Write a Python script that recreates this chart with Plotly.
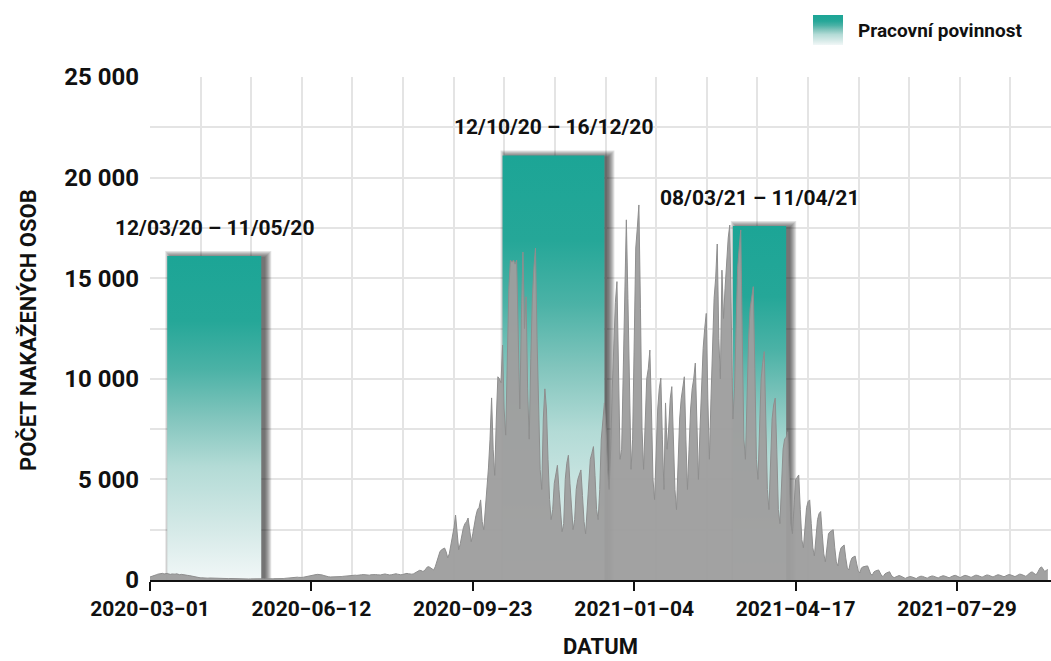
import pandas as pd
import plotly.graph_objects as go

# Daily new cases, one row per week starting Sunday 2020-03-01
cases = [
    150, 170, 200, 230, 260, 290, 310,
    320, 330, 300, 310, 330, 300, 280,
    300, 280, 290, 310, 270, 260, 280,
    260, 250, 240, 230, 220, 200, 180,
    160, 140, 130, 120, 110, 110, 100,
    100, 95, 90, 100, 95, 85, 80,
    80, 85, 90, 80, 75, 70, 70,
    65, 70, 75, 70, 65, 60, 60,
    60, 55, 60, 65, 60, 55, 50,
    50, 55, 60, 55, 50, 45, 50,
    50, 55, 60, 55, 50, 50, 55,
    55, 60, 65, 60, 55, 50, 55,
    60, 70, 80, 90, 100, 110, 120,
    130, 140, 150, 140, 130, 120, 130,
    140, 160, 180, 200, 220, 240, 250,
    260, 270, 280, 280, 270, 250, 220,
    190, 170, 160, 150, 150, 140, 140,
    140, 150, 160, 170, 180, 190, 200,
    210, 220, 230, 240, 250, 240, 230,
    230, 250, 260, 270, 260, 250, 240,
    240, 260, 270, 280, 270, 260, 250,
    250, 270, 290, 300, 280, 260, 250,
    260, 280, 300, 310, 290, 270, 260,
    270, 300, 320, 330, 310, 290, 290,
    300, 350, 400, 450, 480, 470, 430,
    450, 550, 650, 660, 600, 520, 500,
    650, 900, 1200, 1400, 1500, 1550, 1590,
    1400, 1100, 1300, 1700, 2200, 2600, 3230,
    2100, 1500, 1800, 2300, 2600, 2800, 2900,
    3080, 2400, 1900, 2300, 2800, 3200, 3500,
    3600, 3980, 2900, 2500, 3400, 4600, 5570,
    7000, 9050, 6500, 5200, 8000, 10100, 10000,
    9800, 11680, 8500, 7200, 11000, 14500, 15900,
    15800, 15900, 15700, 15900, 12000, 8500, 13000,
    16300, 12500, 14080, 9500, 7000, 11000, 14000,
    15500, 16500, 12000, 8000, 5500, 4500, 8000,
    9500, 8500, 6000, 4000, 3000, 3500, 4800,
    5200, 5700, 4500, 3200, 2400, 2800, 5000,
    5800, 6200, 4800, 3500, 2500, 3000, 4500,
    5000, 5300, 5470, 4200, 2900, 2300, 3500,
    5000, 6000, 6300, 6630, 5200, 3500, 3000,
    4500, 7000, 8000, 8800, 7500, 5500, 4500,
    6500, 9500, 12000, 13800, 14830, 10500, 6000,
    6500, 11000, 15500, 17900, 14000, 9000, 5500,
    7000, 12000, 16500, 17500, 18640, 13500, 7500,
    5500, 8000, 10000, 10500, 11430, 8500, 5000,
    4000, 6500, 8500, 9500, 10030, 7000, 4500,
    8800, 6500, 7500, 9000, 9610, 7500, 4500,
    3500, 6000, 8000, 9000, 9500, 10100, 7000,
    4500, 6500, 8500, 9500, 10000, 10780, 7500,
    5000, 7500, 10000, 11500, 12500, 13250, 9000,
    6000, 9000, 12000, 14000, 15000, 16700, 12000,
    10000, 15400, 13000, 14500, 16000, 17000, 17640,
    12000, 8000, 9500, 13000, 15500, 16500, 17400,
    12000, 7000, 6000, 9000, 12000, 13500, 14000,
    14580, 10500, 6000, 5000, 8000, 10000, 10800,
    11350, 8000, 4500, 3500, 6000, 8000, 8700,
    9040, 6500, 3500, 2800, 5000, 6500, 7000,
    7100, 7370, 5000, 2800, 2300, 4000, 5000,
    5100, 5220, 3500, 2000, 1600, 2800, 3600,
    3900, 3980, 2800, 1600, 1200, 2200, 3000,
    3300, 3400, 2300, 1300, 900, 1700, 2300,
    2400, 2450, 2500, 1600, 900, 700, 1300,
    1600, 1700, 1740, 1100, 600, 500, 900,
    1100, 1150, 1190, 800, 450, 350, 600,
    650, 680, 690, 700, 450, 280, 250,
    400, 450, 480, 500, 350, 200, 180,
    300, 350, 400, 410, 250, 150, 120,
    150, 200, 220, 200, 150, 100, 80,
    120, 150, 170, 160, 130, 90, 70,
    130, 170, 190, 180, 150, 110, 90,
    140, 180, 200, 190, 160, 120, 100,
    150, 190, 210, 200, 170, 130, 110,
    150, 200, 220, 230, 190, 140, 120,
    160, 210, 230, 220, 190, 150, 130,
    170, 220, 240, 230, 200, 150, 140,
    180, 230, 250, 240, 210, 160, 150,
    190, 240, 260, 250, 220, 170, 160,
    200, 250, 270, 260, 230, 180, 170,
    210, 260, 290, 280, 250, 190, 180,
    250, 320, 380, 400, 350, 280, 300,
    450, 600, 650, 550, 420, 480, 520,
]
first_day = "2020-03-01"

# Periods of compulsory work duty
duty_start = ["2020-03-12", "2020-10-12", "2021-03-08"]
duty_end = ["2020-05-11", "2020-12-16", "2021-04-11"]
duty_height = [16100, 21100, 17600]
legend_label = "Pracovní povinnost"

tick_dates = ["2020-03-01", "2020-06-12", "2020-09-23", "2021-01-04", "2021-04-17", "2021-07-29"]
tick_labels = [d.replace("-", "\u2212") for d in tick_dates]
x_range = ["2020-03-01", "2021-09-27"]
y_range = [0, 25000]
x_title = "DATUM"
y_title = "POČET NAKAŽENÝCH OSOB"

FONT = "Roboto, Liberation Sans, sans-serif"
INK = "#111111"
TEAL_SCALE = [
    [0.0, "#f1f7f7"], [0.15, "#d6eae8"], [0.35, "#b3dbd6"], [0.5, "#82c5bd"],
    [0.65, "#4bb2a6"], [0.8, "#25a798"], [1.0, "#1ca596"],
]

W, H = 1051, 661
PLOT_L, PLOT_R, PLOT_T, PLOT_B = 150, 1051, 77, 580
days_per_px = (pd.Timestamp(x_range[1]) - pd.Timestamp(x_range[0])).days / (PLOT_R - PLOT_L)
val_per_px = (y_range[1] - y_range[0]) / (PLOT_B - PLOT_T)

dates = pd.date_range(first_day, periods=len(cases), freq="D")

fig = go.Figure()

# soft drop shadows behind the duty bars
for s, e, h in zip(duty_start, duty_end, duty_height):
    s0, e0 = pd.Timestamp(s), pd.Timestamp(e)
    shift = pd.Timedelta(days=4 * days_per_px)
    for k in range(7):
        grow = pd.Timedelta(days=k * days_per_px)
        x0 = s0 + shift - grow
        x1 = e0 + shift + grow
        ytop = h + (k - 1) * val_per_px
        fig.add_trace(go.Scatter(
            x=[x0, x1, x1, x0, x0], y=[0, 0, ytop, ytop, 0],
            mode="lines", fill="toself", fillcolor="rgba(25,25,25,0.12)",
            line=dict(width=0), hoverinfo="skip", showlegend=False,
        ))

# duty bars with vertical teal gradient
for s, e, h in zip(duty_start, duty_end, duty_height):
    fig.add_trace(go.Scatter(
        x=[s, e, e, s, s], y=[0, 0, h, h, 0],
        mode="lines", fill="toself",
        fillgradient=dict(type="vertical", colorscale=TEAL_SCALE, start=0, stop=h),
        line=dict(width=0), hoverinfo="skip", showlegend=False,
    ))

# daily cases
fig.add_trace(go.Scatter(
    x=dates, y=cases, mode="lines", fill="tozeroy",
    fillcolor="rgba(158,158,158,0.96)", line=dict(color="#8e8e8e", width=1),
    showlegend=False,
))

# period labels above the bars
for s, e, h in zip(duty_start, duty_end, duty_height):
    s0, e0 = pd.Timestamp(s), pd.Timestamp(e)
    mid = s0 + (e0 - s0) / 2
    fig.add_annotation(
        x=mid, y=h, xref="x", yref="y", yanchor="bottom", yshift=14,
        text=f"{s0:%d/%m/%y} \u2013 {e0:%d/%m/%y}", showarrow=False,
        font=dict(family=FONT, size=21, color=INK, weight="bold"),
    )

# legend swatch on its own small axes
fig.add_trace(go.Scatter(
    x=[0, 1, 1, 0, 0], y=[0, 0, 1, 1, 0], xaxis="x2", yaxis="y2",
    mode="lines", fill="toself",
    fillgradient=dict(type="vertical", colorscale=TEAL_SCALE, start=0, stop=1),
    line=dict(width=0), hoverinfo="skip", showlegend=False,
))
fig.add_annotation(
    x=856 / W, y=1 - 30 / H, xref="paper", yref="paper", xanchor="left", yanchor="middle",
    text=legend_label, showarrow=False,
    font=dict(family=FONT, size=19, color=INK, weight="bold"),
)

# axis titles
fig.add_annotation(
    x=28 / W, y=1 - 330 / H, xref="paper", yref="paper", xanchor="center", yanchor="middle",
    text=y_title, textangle=-90, showarrow=False,
    font=dict(family=FONT, size=22, color=INK, weight="bold"),
)
fig.add_annotation(
    x=600 / W, y=1 - 646 / H, xref="paper", yref="paper", xanchor="center", yanchor="middle",
    text=x_title, showarrow=False, borderpad=0,
    font=dict(family=FONT, size=22, color=INK, weight="bold"),
)

fig.update_layout(
    width=W, height=H,
    margin=dict(l=0, r=0, t=0, b=0),
    paper_bgcolor="white", plot_bgcolor="white",
    separators=", ",
    font=dict(family=FONT, color=INK),
    xaxis=dict(
        domain=[PLOT_L / W, PLOT_R / W], type="date", range=x_range,
        tickmode="array", tickvals=tick_dates, ticktext=tick_labels, tickangle=0,
        tickfont=dict(family=FONT, size=21, color=INK, weight="bold"),
        ticks="outside", ticklen=9, tickwidth=1.5, tickcolor=INK,
        showline=True, linecolor=INK, linewidth=2,
        showgrid=False, zeroline=False,
        minor=dict(tick0="2020-03-01", dtick=32.3 * 86400000, showgrid=True,
                   gridcolor="#e4e4e4", gridwidth=1.5, ticks=""),
        automargin=False, anchor="y",
    ),
    yaxis=dict(
        domain=[1 - PLOT_B / H, 1 - PLOT_T / H], range=y_range,
        tickmode="linear", tick0=0, dtick=5000, tickformat=",d",
        tickfont=dict(family=FONT, size=24, color=INK, weight="bold"),
        ticks="", ticklabelstandoff=10,
        showgrid=True, gridcolor="#e4e4e4", gridwidth=1.5,
        minor=dict(dtick=2500, showgrid=True, gridcolor="#e4e4e4", gridwidth=1.5),
        zeroline=False, showline=False,
        automargin=False, anchor="x",
    ),
    xaxis2=dict(domain=[813 / W, 843 / W], range=[0, 1], visible=False, fixedrange=True, anchor="y2"),
    yaxis2=dict(domain=[1 - 45 / H, 1 - 15 / H], range=[0, 1], visible=False, fixedrange=True, anchor="x2"),
)

fig.write_html("out.html")
